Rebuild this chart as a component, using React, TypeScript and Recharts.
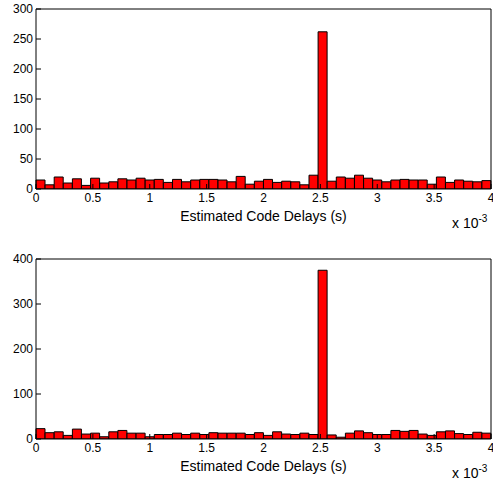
import { ComposedChart, Bar, XAxis, YAxis } from "recharts";

// histogram bins: 50 bins of 0.08e-3 s from 0 to 4e-3 s (bin centres)
const binMids = [
  0.04, 0.12, 0.2, 0.28, 0.36, 0.44, 0.52, 0.6, 0.68, 0.76,
  0.84, 0.92, 1.0, 1.08, 1.16, 1.24, 1.32, 1.4, 1.48, 1.56,
  1.64, 1.72, 1.8, 1.88, 1.96, 2.04, 2.12, 2.2, 2.28, 2.36,
  2.44, 2.52, 2.6, 2.68, 2.76, 2.84, 2.92, 3.0, 3.08, 3.16,
  3.24, 3.32, 3.4, 3.48, 3.56, 3.64, 3.72, 3.8, 3.88, 3.96
];

const topCounts = [
  15, 7, 20, 10, 17, 6, 18, 10, 12, 17,
  15, 18, 15, 16, 11, 16, 12, 15, 16, 16,
  15, 12, 21, 8, 13, 16, 11, 13, 12, 7,
  23, 262, 13, 20, 18, 23, 18, 15, 12, 15,
  16, 15, 15, 8, 20, 11, 15, 13, 12, 14
];

const bottomCounts = [
  23, 14, 16, 8, 22, 11, 13, 5, 16, 19,
  13, 13, 5, 10, 10, 13, 10, 13, 10, 14,
  13, 13, 13, 10, 14, 8, 16, 11, 10, 13,
  10, 375, 9, 4, 13, 18, 14, 10, 10, 19,
  17, 19, 11, 8, 16, 18, 12, 10, 15, 13
];

const xTicks = [0, 0.5, 1, 1.5, 2, 2.5, 3, 3.5, 4];
const yTicksTop = [0, 50, 100, 150, 200, 250, 300];
const yTicksBottom = [0, 100, 200, 300, 400];

const font = "'Liberation Sans', Arial, Helvetica, sans-serif";
const tickStyle = { fontSize: 12, fill: "#000", fontFamily: font };

function Histogram({ data, yMax, yTicks, top, height, marginTop }: any) {
  const plotBottom = marginTop + 180;
  return (
    <div style={{ position: "absolute", left: 0, top, width: 493, height }}>
      <ComposedChart
        width={493}
        height={height}
        data={data}
        margin={{ top: marginTop - 1, right: 1, bottom: 0, left: 0 }}
        barCategoryGap={0}
        barGap={0}
      >
        <XAxis xAxisId="bins" dataKey="mid" type="category" hide orientation="top" height={0} />
        <XAxis
          xAxisId="t"
          dataKey="mid"
          type="number"
          domain={[0, 4]}
          ticks={xTicks}
          allowDataOverflow
          height={height - plotBottom}
          stroke="#000"
          tickSize={-5}
          tickMargin={9}
          tick={tickStyle}
          interval={0}
        />
        <XAxis
          xAxisId="top"
          dataKey="mid"
          orientation="top"
          type="number"
          domain={[0, 4]}
          ticks={xTicks}
          allowDataOverflow
          height={1}
          stroke="#000"
          tickSize={-5}
          tick={false}
        />
        <YAxis
          yAxisId="left"
          type="number"
          domain={[0, yMax]}
          ticks={yTicks}
          allowDataOverflow
          width={36}
          stroke="#000"
          tickSize={-5}
          tickMargin={8}
          tick={tickStyle}
          interval={0}
        />
        <YAxis
          yAxisId="right"
          orientation="right"
          type="number"
          domain={[0, yMax]}
          ticks={yTicks}
          allowDataOverflow
          width={1}
          stroke="#000"
          tickSize={-5}
          tick={false}
        />
        <Bar
          xAxisId="bins"
          yAxisId="left"
          dataKey="count"
          fill="#ff0000"
          stroke="#000"
          strokeWidth={1}
          isAnimationActive={false}
        />
      </ComposedChart>
      <div
        style={{
          position: "absolute",
          left: 36,
          width: 455,
          top: plotBottom + 19,
          textAlign: "center",
          fontFamily: font,
          fontSize: 14,
          lineHeight: "16px",
        }}
      >
        Estimated Code Delays (s)
      </div>
      <div
        style={{
          position: "absolute",
          left: 452,
          top: plotBottom + 26,
          fontFamily: font,
          fontSize: 14,
          lineHeight: "16px",
          whiteSpace: "nowrap",
        }}
      >
        x 10<sup style={{ fontSize: 10, verticalAlign: "6px", lineHeight: 0 }}>-3</sup>
      </div>
    </div>
  );
}

export default function App() {
  const topData = binMids.map((m, i) => ({ mid: m, count: topCounts[i] }));
  const bottomData = binMids.map((m, i) => ({ mid: m, count: bottomCounts[i] }));
  return (
    <div style={{ position: "absolute", left: 0, top: 0, width: 493, height: 483, background: "#fff", overflow: "hidden" }}>
      <Histogram data={topData} yMax={300} yTicks={yTicksTop} top={0} height={241} marginTop={9} />
      <Histogram data={bottomData} yMax={400} yTicks={yTicksBottom} top={241} height={242} marginTop={18} />
    </div>
  );
}
